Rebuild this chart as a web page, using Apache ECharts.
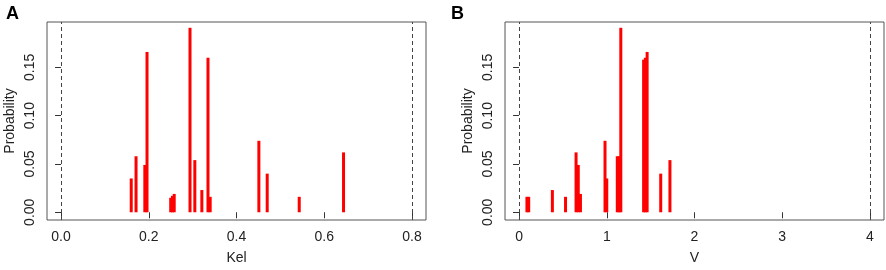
<!DOCTYPE html>
<html lang="en">
<head>
<meta charset="UTF-8">
<title>Probability</title>
<script src="https://cdn.jsdelivr.net/npm/echarts@6/dist/echarts.min.js"></script>
</head>
<body style="margin:0">
<div id="main" style="width:886px;height:270px"></div>
<script>
  // panel A: Kel values and their probability
  const kelValues = [0.160, 0.171, 0.191, 0.196, 0.250, 0.254, 0.258, 0.294, 0.305, 0.321, 0.335, 0.340, 0.451, 0.470, 0.543, 0.644];
  const kelProb   = [0.035, 0.058, 0.049, 0.166, 0.015, 0.017, 0.019, 0.191, 0.054, 0.023, 0.160, 0.016, 0.074, 0.040, 0.016, 0.062];
  const kelTicks  = [0, 0.2, 0.4, 0.6, 0.8];
  const kelBounds = [0, 0.8];

  // panel B: V values and their probability
  const vValues = [0.09, 0.11, 0.38, 0.53, 0.65, 0.675, 0.70, 0.98, 1.00, 1.12, 1.14, 1.16, 1.42, 1.44, 1.46, 1.615, 1.72];
  const vProb   = [0.016, 0.016, 0.023, 0.016, 0.062, 0.049, 0.019, 0.074, 0.035, 0.058, 0.058, 0.191, 0.158, 0.160, 0.166, 0.040, 0.054];
  const vTicks  = [0, 1, 2, 3, 4];
  const vBounds = [0, 4];

  const probTicks = [0, 0.05, 0.10, 0.15];

  const font = 'Liberation Sans, Arial, sans-serif';
  const axisColor = '#333';

  function zip(xs, ys) {
    return xs.map(function (x, i) { return [x, ys[i]]; });
  }

  function xAxisFor(idx, name, ticks, pad) {
    return {
      type: 'value', gridIndex: idx,
      min: ticks[0] - pad, max: ticks[ticks.length - 1] + pad,
      name: name, nameLocation: 'middle', nameGap: 31,
      nameTextStyle: {fontFamily: font, fontSize: 14, color: '#222'},
      axisLine: {show: false},
      axisTick: {show: true, inside: false, length: 6, customValues: ticks, lineStyle: {color: axisColor}},
      axisLabel: {customValues: ticks, margin: 10, fontFamily: font, fontSize: 14, color: '#222',
        formatter: function (v) { return name === 'V' ? String(Math.round(v)) : v.toFixed(1); }},
      splitLine: {show: false}
    };
  }

  function yAxisFor(idx) {
    return {
      type: 'value', gridIndex: idx,
      min: -0.008, max: 0.197,
      name: 'Probability', nameLocation: 'middle', nameGap: 30,
      nameTextStyle: {fontFamily: font, fontSize: 14, color: '#222'},
      axisLine: {show: false},
      axisTick: {show: true, inside: false, length: 6, customValues: probTicks, lineStyle: {color: axisColor}},
      axisLabel: {customValues: probTicks, rotate: 90, margin: 10, fontFamily: font, fontSize: 14, color: '#222',
        formatter: function (v) { return v.toFixed(2); }},
      splitLine: {show: false}
    };
  }

  function seriesFor(idx, xs, ys, bounds) {
    return {
      type: 'bar', xAxisIndex: idx, yAxisIndex: idx,
      data: zip(xs, ys),
      barWidth: 3,
      itemStyle: {color: '#ff0000'},
      silent: true,
      markLine: {
        silent: true, symbol: 'none', label: {show: false},
        lineStyle: {color: '#444', type: [4, 3], width: 1},
        data: bounds.map(function (b) { return {xAxis: b}; })
      }
    };
  }

  var chart = echarts.init(document.getElementById('main'));
  var option = {
    animation: false,
    title: [
      {text: 'A', left: 1, top: 0, textStyle: {fontFamily: font, fontSize: 18, fontWeight: 'bold', color: '#000'}},
      {text: 'B', left: 446, top: 0, textStyle: {fontFamily: font, fontSize: 18, fontWeight: 'bold', color: '#000'}}
    ],
    grid: [
      {left: 47, top: 22, width: 379, height: 204, show: true, borderColor: '#555', borderWidth: 1, backgroundColor: 'transparent'},
      {left: 505, top: 22, width: 379, height: 204, show: true, borderColor: '#555', borderWidth: 1, backgroundColor: 'transparent'}
    ],
    xAxis: [xAxisFor(0, 'Kel', kelTicks, 0.032), xAxisFor(1, 'V', vTicks, 0.16)],
    yAxis: [yAxisFor(0), yAxisFor(1)],
    series: [seriesFor(0, kelValues, kelProb, kelBounds), seriesFor(1, vValues, vProb, vBounds)]
  };
  chart.setOption(option);
</script>
</body>
</html>
